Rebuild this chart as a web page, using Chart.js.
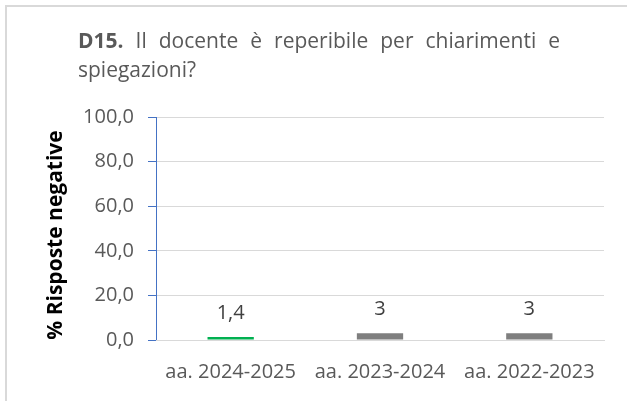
<!DOCTYPE html>
<html lang="it">
<head>
    <meta charset="UTF-8">
    <title>D15</title>
    <style>
        html, body {
            margin: 0;
            padding: 0;
            background: #ffffff;
            overflow: hidden;
        }

        #wrap {
            position: relative;
            width: 627px;
            height: 401px;
        }

        /* chart area frame, only top and left edges fall inside the picture */
        #frame {
            position: absolute;
            left: 5px;
            top: 5px;
            width: 700px;
            height: 500px;
            border-left: 2px solid #d9d9d9;
            border-top: 2px solid #d9d9d9;
        }

        #title {
            position: absolute;
            left: 78px;
            top: 26px;
            width: 482px;
            font-family: "Open Sans", sans-serif;
            font-size: 21px;
            line-height: 29px;
            color: #595959;
        }

        #title .l1 {
            display: block;
            text-align: justify;
            text-align-last: justify;
        }

        #title b {
            font-weight: bold;
        }

        canvas {
            position: absolute;
            left: 0;
            top: 0;
        }
    </style>
</head>
<body>
<div id="wrap">
    <div id="frame"></div>
    <canvas id="barChart" width="627" height="401"></canvas>
    <div id="title">
        <span class="l1"><b>D15.</b> Il docente è reperibile per chiarimenti e</span>
        <span>spiegazioni?</span>
    </div>
</div>

<script src="https://cdn.jsdelivr.net/npm/chart.js"></script>
<script>
    // chart data
    const categories = ['aa. 2024-2025', 'aa. 2023-2024', 'aa. 2022-2023'];
    const negative = [1.4, 3, 3];
    const barColors = ['#00b050', '#7f7f7f', '#7f7f7f'];
    const yTitle = '% Risposte negative';

    // labels above bars (Excel style, comma decimals) + rotated axis title
    const extraText = {
        id: 'extraText',
        afterDatasetsDraw(chart) {
            const ctx = chart.ctx;
            const meta = chart.getDatasetMeta(0);
            ctx.save();
            ctx.font = '20px "Open Sans", sans-serif';
            ctx.fillStyle = '#404040';
            ctx.textAlign = 'center';
            ctx.textBaseline = 'bottom';
            meta.data.forEach((bar, i) => {
                const txt = String(negative[i]).replace('.', ',');
                ctx.fillText(txt, bar.x, bar.y - 14);
            });

            ctx.translate(56, 235);
            ctx.rotate(-Math.PI / 2);
            ctx.font = 'bold 21px "Open Sans", sans-serif';
            ctx.fillStyle = '#000000';
            ctx.textBaseline = 'middle';
            ctx.fillText(yTitle, 0, 0);
            ctx.restore();
        }
    };

    const ctx = document.getElementById('barChart').getContext('2d');
    new Chart(ctx, {
        type: 'bar',
        data: {
            labels: categories,
            datasets: [{
                data: negative,
                backgroundColor: barColors,
                borderWidth: 0,
                barPercentage: 0.31,
                categoryPercentage: 1
            }]
        },
        options: {
            responsive: false,
            animation: false,
            layout: {
                padding: { left: 70, top: 117, right: 23, bottom: 0 }
            },
            plugins: {
                legend: { display: false },
                tooltip: { enabled: false }
            },
            scales: {
                y: {
                    min: 0,
                    max: 100,
                    afterFit(scale) { scale.width = 86; },
                    ticks: {
                        stepSize: 20,
                        padding: 14,
                        color: '#595959',
                        font: { family: 'Open Sans', size: 20 },
                        callback: v => v.toFixed(1).replace('.', ',')
                    },
                    grid: {
                        color: '#d9d9d9',
                        tickColor: '#4472c4',
                        tickLength: 8,
                        lineWidth: 1
                    },
                    border: { color: '#4472c4', width: 1 }
                },
                x: {
                    afterFit(scale) { scale.height = 61; },
                    ticks: {
                        padding: 12,
                        color: '#595959',
                        font: { family: 'Open Sans', size: 20 }
                    },
                    grid: { display: false },
                    border: { color: '#d9d9d9', width: 1 }
                }
            }
        },
        plugins: [extraText]
    });
</script>
</body>
</html>
